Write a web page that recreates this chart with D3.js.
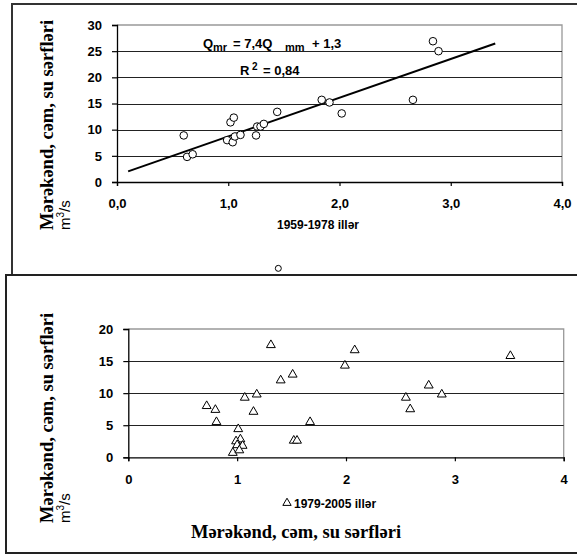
<!DOCTYPE html>
<html>
<head>
<meta charset="utf-8">
<script src="https://cdn.jsdelivr.net/npm/d3@7"></script>
<style>
  body { margin: 0; background: #fff; }
  svg { display: block; }
</style>
</head>
<body>
<svg id="chart" width="577" height="555"></svg>
<script>
// top panel: 1959-1978 (circles + trend line)
const topX = [0.60, 0.63, 0.68, 1.02, 1.05, 0.99, 1.04, 1.06, 1.11, 1.25, 1.26, 1.29, 1.32, 1.44,
              1.84, 1.91, 2.02, 2.66, 2.84, 2.89];
const topY = [8.9, 4.8, 5.3, 11.4, 12.3, 8.0, 7.6, 8.7, 9.0, 8.9, 10.6, 10.6, 11.1, 13.4,
              15.7, 15.2, 13.1, 15.7, 26.9, 25.0];
const trendSlope = 7.4;
const trendIntercept = 1.3;
const trendRange = [0.1, 3.4];
const topXTicks = [0, 1, 2, 3, 4];
const topYTicks = [0, 5, 10, 15, 20, 25, 30];
const strayPoint = [[1.45, -16.5]];

// bottom panel: 1979-2005 (triangles)
const botX = [1.31, 1.40, 1.51, 0.72, 0.80, 0.81, 1.07, 1.18, 1.15, 1.01, 1.03, 0.99, 1.00, 1.05, 0.96, 1.02,
              1.52, 1.55, 2.08, 1.99, 3.51, 2.76, 2.88, 2.55, 2.59, 1.67];
const botY = [17.5, 12.0, 12.9, 8.0, 7.4, 5.5, 9.3, 9.8, 7.1, 4.4, 2.8, 2.5, 1.9, 1.8, 0.7, 1.1,
              2.6, 2.6, 16.7, 14.3, 15.8, 11.2, 9.8, 9.3, 7.5, 5.5];
const botXTicks = [0, 1, 2, 3, 4];
const botYTicks = [0, 5, 10, 15, 20];

const yTitle = "Mərəkənd, cəm, su sərfləri";
const topLabel = "1959-1978 illər";
const botLabel = "1979-2005 illər";

const svg = d3.select("#chart");
const tickFont = "'Liberation Sans', Arial, sans-serif";
const serif = "'Liberation Serif', 'Times New Roman', serif";

// frames
svg.append("path").attr("d", "M12,280 L12,4 L580,4")
    .attr("fill", "none").attr("stroke", "#333").attr("stroke-width", 2);

const xT = d3.scaleLinear().domain([0, 4]).range([117, 562]);
const yT = d3.scaleLinear().domain([0, 30]).range([182, 25]);

svg.append("rect").attr("x", 6).attr("y", 275).attr("width", 580).attr("height", 278)
    .attr("fill", "#fff").attr("stroke", "#222").attr("stroke-width", 2);

// stray circle (outside the top axis range)
svg.selectAll(".stray").data(strayPoint).enter().append("circle")
    .attr("cx", d => xT(d[0])).attr("cy", d => yT(d[1])).attr("r", 3)
    .attr("fill", "#fff").attr("stroke", "#000").attr("stroke-width", 1);

function drawPanel(g, x, y, xTicks, yTicks, fmt) {
    const [x0, x1] = x.range();
    const [y0, y1] = y.range();
    // plot border (gray)
    g.append("path").attr("d", `M${x0},${y1} L${x1},${y1} L${x1},${y0}`)
        .attr("fill", "none").attr("stroke", "#999").attr("stroke-width", 1.3);
    // gridlines
    g.selectAll(".grid").data(yTicks.slice(1, -1)).enter().append("line")
        .attr("x1", x0).attr("x2", x1)
        .attr("y1", d => Math.round(y(d)) + 0.5).attr("y2", d => Math.round(y(d)) + 0.5)
        .attr("stroke", "#222").attr("stroke-width", 1.2);
    // axes
    const yAxis = d3.axisLeft(y).tickValues(yTicks).tickSize(5).tickPadding(10).tickFormat(d3.format("d"));
    const xAxis = d3.axisBottom(x).tickValues(xTicks).tickSize(4).tickPadding(10).tickFormat(fmt);
    const ya = g.append("g").attr("transform", `translate(${x0},0)`).call(yAxis);
    const xa = g.append("g").attr("transform", `translate(0,${y0})`).call(xAxis);
    [ya, xa].forEach(a => {
        a.select(".domain").attr("stroke", "#000").attr("stroke-width", 1.3);
        a.selectAll(".tick line").attr("stroke", "#000").attr("stroke-width", 1.2);
        a.selectAll("text").attr("font-family", tickFont).attr("font-weight", "bold")
            .attr("font-size", 13).attr("fill", "#000");
    });
    xa.selectAll("text").attr("dy", "0.95em");
}

function drawYTitle(cx, bottom) {
    const t = svg.append("g").attr("transform", `translate(${cx},${bottom}) rotate(-90)`);
    t.append("text").attr("x", 0).attr("y", 0)
        .attr("font-family", serif).attr("font-weight", "bold").attr("font-size", 18.5)
        .text(yTitle);
    const u = t.append("text").attr("x", 0).attr("y", 17)
        .attr("font-family", tickFont).attr("font-size", 15);
    u.append("tspan").text("m");
    u.append("tspan").attr("font-size", 10).attr("dy", -6).text("3");
    u.append("tspan").attr("dy", 6).text("/s");
}

// ---------- top panel ----------
const gTop = svg.append("g");
drawPanel(gTop, xT, yT, topXTicks, topYTicks, d => d3.format(".1f")(d).replace(".", ","));

gTop.append("line")
    .attr("x1", xT(trendRange[0])).attr("y1", yT(trendSlope * trendRange[0] + trendIntercept))
    .attr("x2", xT(trendRange[1])).attr("y2", yT(trendSlope * trendRange[1] + trendIntercept))
    .attr("stroke", "#000").attr("stroke-width", 2);

gTop.selectAll(".pt").data(topX.map((v, i) => [v, topY[i]])).enter().append("circle")
    .attr("cx", d => xT(d[0])).attr("cy", d => yT(d[1])).attr("r", 3.8)
    .attr("fill", "#fff").attr("stroke", "#000").attr("stroke-width", 1);

// equation of the trend line
const eq = gTop.append("text").attr("font-family", tickFont).attr("font-weight", "bold").attr("font-size", 13);
eq.append("tspan").attr("x", 203).attr("y", 48).text("Q");
eq.append("tspan").attr("x", 213).attr("y", 51).attr("font-size", 11).text("mr");
eq.append("tspan").attr("x", 233).attr("y", 48).text("= 7,4Q");
eq.append("tspan").attr("x", 285).attr("y", 51).attr("font-size", 11).text("mm");
eq.append("tspan").attr("x", 312).attr("y", 48).text("+ 1,3");

const r2 = gTop.append("text").attr("font-family", tickFont).attr("font-weight", "bold").attr("font-size", 13);
r2.append("tspan").attr("x", 240).attr("y", 75).text("R");
r2.append("tspan").attr("x", 252).attr("y", 70).attr("font-size", 10).text("2");
r2.append("tspan").attr("x", 263).attr("y", 75).text("= 0,84");

gTop.append("text").attr("x", 318).attr("y", 229).attr("text-anchor", "middle")
    .attr("font-family", tickFont).attr("font-weight", "bold").attr("font-size", 12)
    .text(topLabel);

drawYTitle(53, 230);

// ---------- bottom panel ----------
const xB = d3.scaleLinear().domain([0, 4]).range([128.3, 563.7]);
const yB = d3.scaleLinear().domain([0, 20]).range([457.3, 329]);
const gBot = svg.append("g");
drawPanel(gBot, xB, yB, botXTicks, botYTicks, d3.format("d"));

const tri = d3.symbol().type(d3.symbolTriangle).size(34);
gBot.selectAll(".tri").data(botX.map((v, i) => [v, botY[i]])).enter().append("path")
    .attr("d", tri)
    .attr("transform", d => `translate(${xB(d[0])},${yB(d[1])})`)
    .attr("fill", "#fff").attr("stroke", "#000").attr("stroke-width", 1);

gBot.append("path").attr("d", d3.symbol().type(d3.symbolTriangle).size(30))
    .attr("transform", "translate(287,503)")
    .attr("fill", "#fff").attr("stroke", "#000").attr("stroke-width", 1);
gBot.append("text").attr("x", 294).attr("y", 508)
    .attr("font-family", tickFont).attr("font-weight", "bold").attr("font-size", 12)
    .text(botLabel);

gBot.append("text").attr("x", 296).attr("y", 538).attr("text-anchor", "middle")
    .attr("font-family", serif).attr("font-weight", "bold").attr("font-size", 18.5)
    .text(yTitle);

drawYTitle(53, 523);
</script>
</body>
</html>
